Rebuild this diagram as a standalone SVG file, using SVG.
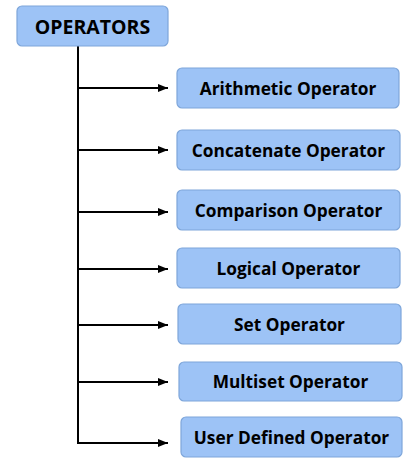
<svg xmlns="http://www.w3.org/2000/svg" width="409" height="462" viewBox="0 0 409 462">
<defs>
<style>
.box{fill:#9DC3F6;stroke:#7EA6DA;stroke-width:1.2}
.t{font-family:"Open Sans","Noto Sans","DejaVu Sans",sans-serif;font-weight:bold;font-size:17.3px;fill:#000;text-anchor:middle;dominant-baseline:central}
.c{stroke:#000;stroke-width:2;fill:none}
</style>
<marker id="ah" viewBox="0 0 10 10" refX="10" refY="5" markerWidth="5" markerHeight="5" orient="auto" markerUnits="strokeWidth">
<path d="M0,1 L10,5 L0,9 z" fill="#000"/>
</marker>
</defs>
<rect width="409" height="462" fill="#fff"/>
<g id="connectors">
<line class="c" x1="78" y1="46" x2="78" y2="443"/>
<line class="c" x1="77" y1="88" x2="168" y2="88" marker-end="url(#ah)"/>
<line class="c" x1="77" y1="150" x2="168" y2="150" marker-end="url(#ah)"/>
<line class="c" x1="77" y1="212" x2="168" y2="212" marker-end="url(#ah)"/>
<line class="c" x1="77" y1="269" x2="168" y2="269" marker-end="url(#ah)"/>
<line class="c" x1="77" y1="325" x2="168" y2="325" marker-end="url(#ah)"/>
<line class="c" x1="77" y1="382" x2="168" y2="382" marker-end="url(#ah)"/>
<line class="c" x1="77" y1="443" x2="168" y2="443" marker-end="url(#ah)"/>
</g>
<g id="operators"><rect class="box" x="17" y="6" width="151" height="40" rx="5"/><text class="t" x="92.5" y="26" style="font-size:19.5px">OPERATORS</text></g>
<g id="arithmetic"><rect class="box" x="177" y="68" width="222" height="40" rx="5"/><text class="t" x="288" y="88">Arithmetic Operator</text></g>
<g id="concatenate"><rect class="box" x="177" y="130" width="223" height="40" rx="5"/><text class="t" x="288.5" y="150">Concatenate Operator</text></g>
<g id="comparison"><rect class="box" x="177" y="190" width="223" height="40" rx="5"/><text class="t" x="288.5" y="210">Comparison Operator</text></g>
<g id="logical"><rect class="box" x="177" y="248" width="223" height="40" rx="5"/><text class="t" x="288.5" y="268">Logical Operator</text></g>
<g id="set"><rect class="box" x="178" y="304" width="223" height="40" rx="5"/><text class="t" x="289.5" y="324">Set Operator</text></g>
<g id="multiset"><rect class="box" x="179" y="362" width="223" height="39" rx="5"/><text class="t" x="290.5" y="381.5">Multiset Operator</text></g>
<g id="userdefined"><rect class="box" x="181" y="417" width="221" height="40" rx="5"/><text class="t" x="291.5" y="437">User Defined Operator</text></g>
</svg>
